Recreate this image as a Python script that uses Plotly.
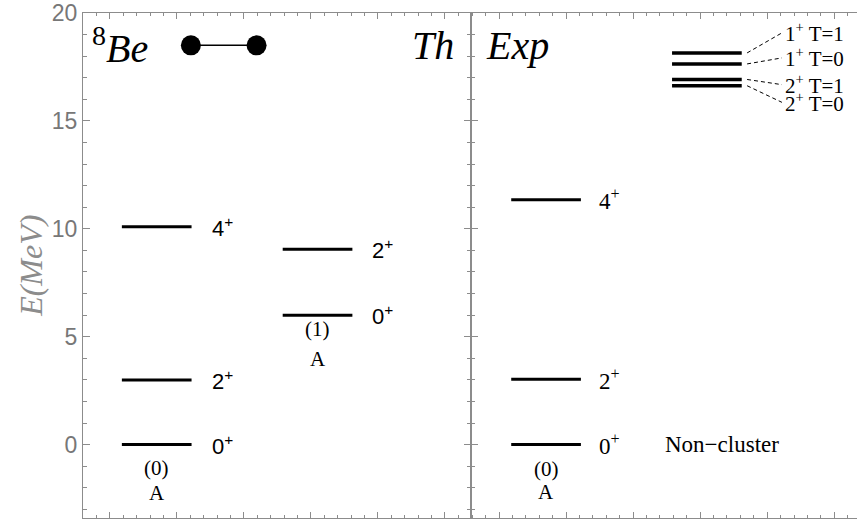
"""8Be level scheme: cluster model (Th) vs experiment (Exp)"""
import plotly.graph_objects as go

# --- data -------------------------------------------------------------
th_A0_E = [0.0, 3.0, 10.1]          # theory, band A(0)
th_A0_J = ["0", "2", "4"]
th_A1_E = [6.0, 9.05]               # theory, band A(1)
th_A1_J = ["0", "2"]
exp_E = [0.0, 3.03, 11.35]          # experiment, cluster band
exp_J = ["0", "2", "4"]
exp_nc_E = [18.15, 17.64, 16.92, 16.63]   # non-cluster states
exp_nc_labels = ["1<sup>+</sup> T=1", "1<sup>+</sup> T=0",
                 "2<sup>+</sup> T=1", "2<sup>+</sup> T=0"]

# --- layout helpers ---------------------------------------------------
col1 = (-0.82, 0.22)   # x span of first column of levels
col2 = (1.58, 2.62)    # x span of second column
nc_label_y = [19.08, 17.92, 16.68, 15.86]
GREY = "#8c8c8c"
SERIF = "Liberation Serif"
SANS = "Liberation Sans"


def level_xy(span, energies):
    xs, ys = [], []
    for e in energies:
        xs += [span[0], span[1], None]
        ys += [e, e, None]
    return xs, ys


fig = go.Figure()


def add_levels(span, energies, xa, ya, width=3):
    xs, ys = level_xy(span, energies)
    fig.add_trace(go.Scatter(x=xs, y=ys, xaxis=xa, yaxis=ya, mode="lines",
                             line=dict(color="black", width=width),
                             hoverinfo="skip", showlegend=False))


add_levels(col1, th_A0_E, "x", "y")
add_levels(col2, th_A1_E, "x", "y")
add_levels(col1, exp_E, "x2", "y2")
add_levels(col2, exp_nc_E, "x2", "y2", width=3.5)

# dashed connectors to non-cluster labels
for e, ly in zip(exp_nc_E, nc_label_y):
    fig.add_trace(go.Scatter(x=[2.70, 3.22], y=[e, ly], xaxis="x2", yaxis="y2",
                             mode="lines", line=dict(color="black", width=1, dash="4px,3px"),
                             hoverinfo="skip", showlegend=False))

# dumbbell (two alpha clusters)
fig.add_trace(go.Scatter(x=[0.21, 1.19], y=[18.5, 18.5], xaxis="x", yaxis="y",
                         mode="lines+markers", line=dict(color="black", width=1.5),
                         marker=dict(size=20, color="black"),
                         hoverinfo="skip", showlegend=False))

ann = []


def text(x, y, t, xref="x", yref="y", size=22, family=SANS, xanchor="left",
         style="normal", color="black"):
    ann.append(dict(x=x, y=y, xref=xref, yref=yref, text=t, showarrow=False,
                    xanchor=xanchor, yanchor="middle",
                    font=dict(size=size, family=family, color=color, style=style)))


for e, j in zip(th_A0_E, th_A0_J):
    text(0.50, e, j + "<sup>+</sup>")
for e, j in zip(th_A1_E, th_A1_J):
    text(2.88, e, j + "<sup>+</sup>")
for e, j in zip(exp_E, exp_J):
    text(0.46, e, j + "<sup>+</sup>", xref="x2", yref="y2", family=SERIF, size=23)
text(1.45, 0, "Non\u2212cluster", xref="x2", yref="y2", family=SERIF, size=23)
for ly, lab in zip(nc_label_y, exp_nc_labels):
    text(3.23, ly, lab, xref="x2", yref="y2", family=SERIF, size=21)

# band labels
text(-0.30, -1.1, "(0)", family=SERIF, size=21, xanchor="center")
text(-0.30, -2.25, "A", family=SERIF, size=21, xanchor="center")
text(2.10, 5.35, "(1)", family=SERIF, size=21, xanchor="center")
text(2.10, 3.95, "A", family=SERIF, size=21, xanchor="center")
text(-0.30, -1.15, "(0)", xref="x2", yref="y2", family=SERIF, size=21, xanchor="center")
text(-0.30, -2.2, "A", xref="x2", yref="y2", family=SERIF, size=21, xanchor="center")

# panel titles
text(-1.30, 18.5, "<sup>8</sup><i>Be</i>", family=SERIF, size=40)
text(4.17, 18.5, "Th", family=SERIF, size=40, xanchor="right", style="italic")
text(-1.23, 18.5, "Exp", xref="x2", yref="y2", family=SERIF, size=40, style="italic")

# y axis title
ann.append(dict(x=-0.068, y=0.5, xref="paper", yref="paper", text="E(MeV)",
                textangle=-90, showarrow=False, xanchor="center", yanchor="middle",
                font=dict(size=32, family=SERIF, color=GREY, style="italic")))

xcommon = dict(dtick=1, tick0=0, ticks="inside", ticklen=6, tickcolor=GREY,
               minor=dict(dtick=0.2, ticks="inside", ticklen=3, tickcolor=GREY),
               showticklabels=False, showline=True, linecolor=GREY, linewidth=1,
               mirror="allticks", showgrid=False, zeroline=False)
ycommon = dict(range=[-3.4, 20], dtick=5, tick0=0, ticks="inside", ticklen=7,
               tickcolor=GREY,
               minor=dict(dtick=1, ticks="inside", ticklen=4, tickcolor=GREY),
               showline=True, linecolor=GREY, linewidth=1, showgrid=False,
               zeroline=False, automargin=False)

fig.update_layout(
    width=857, height=520,
    margin=dict(l=83, r=0, t=13, b=2),
    paper_bgcolor="white", plot_bgcolor="white",
    xaxis=dict(domain=[0, 0.5013], range=[-1.4, 4.39], anchor="y", **xcommon),
    xaxis2=dict(domain=[0.5013, 1], range=[-1.42, 4.34], anchor="y2", **xcommon),
    yaxis=dict(anchor="x", mirror="allticks",
               tickfont=dict(family=SANS, size=23, color="#777777"), **ycommon),
    yaxis2=dict(anchor="x2", matches="y", showticklabels=False, mirror=False, **ycommon),
    annotations=ann,
)

# drop the default body margin so the figure fills the window exactly
fig.write_html("out.html", config={"displayModeBar": False},
               post_script="document.body.style.margin='0';")
